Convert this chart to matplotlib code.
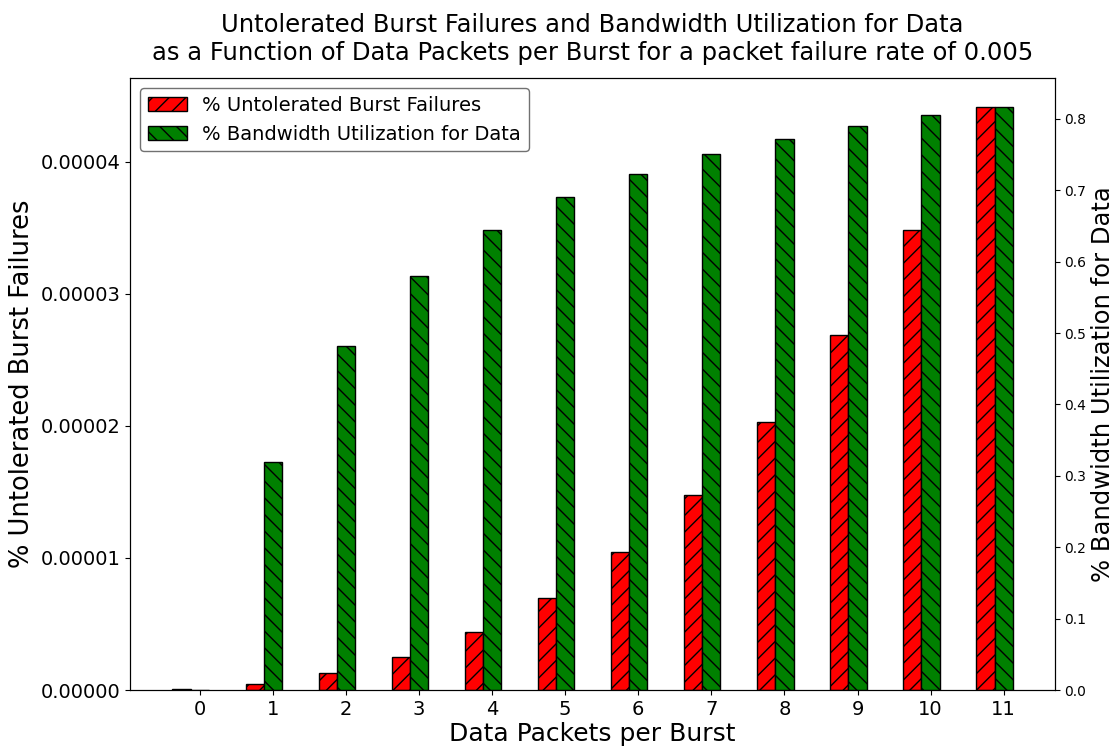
import matplotlib
matplotlib.use("Agg")
import matplotlib.pyplot as plt
import numpy as np

packets = [0, 1, 2, 3, 4, 5, 6, 7, 8, 9, 10, 11]
burst_failures = [1.0e-7, 4.8e-7, 1.26e-6, 2.49e-6, 4.41e-6, 6.97e-6,
                  1.042e-5, 1.48e-5, 2.027e-5, 2.69e-5, 3.48e-5, 4.41e-5]
bw_util = [0.0, 0.320, 0.482, 0.580, 0.644, 0.690, 0.723, 0.751,
           0.772, 0.790, 0.805, 0.816]

x = np.array(packets)
width = 0.25

fig, ax = plt.subplots(figsize=(11.15, 7.46), dpi=100)
fig.subplots_adjust(left=0.117, right=0.946, top=0.895, bottom=0.075)
ax2 = ax.twinx()

b1 = ax.bar(x - width, burst_failures, width, color="red", edgecolor="black",
            hatch="//", label="% Untolerated Burst Failures")
b2 = ax2.bar(x, bw_util, width, color="green", edgecolor="black",
             hatch="\\\\", label="% Bandwidth Utilization for Data")

ax.set_xticks(x)
ax.set_xticklabels([str(p) for p in packets], fontsize=14)
ax.tick_params(axis="y", labelsize=14)
ax2.tick_params(axis="y", labelsize=10)
ax.yaxis.set_major_formatter(matplotlib.ticker.FormatStrFormatter("%.5f"))
ax.set_yticks([0, 1e-5, 2e-5, 3e-5, 4e-5])
ax.set_ylim(0, max(burst_failures) * 1.05)
ax2.set_ylim(0, max(bw_util) * 1.05)

ax.set_xlabel("Data Packets per Burst", fontsize=18, labelpad=2)
ax.set_ylabel("% Untolerated Burst Failures", fontsize=18.5)
ax2.set_ylabel("% Bandwidth Utilization for Data", fontsize=17.5, labelpad=3)
ax.set_title("Untolerated Burst Failures and Bandwidth Utilization for Data\n"
             "as a Function of Data Packets per Burst for a packet failure rate of 0.005",
             fontsize=17.5, pad=13)

leg = ax.legend([b1, b2], [b1.get_label(), b2.get_label()], loc="upper left",
                fontsize=14)
leg.get_frame().set_edgecolor("0.3")

plt.savefig("out.png", dpi=100)
